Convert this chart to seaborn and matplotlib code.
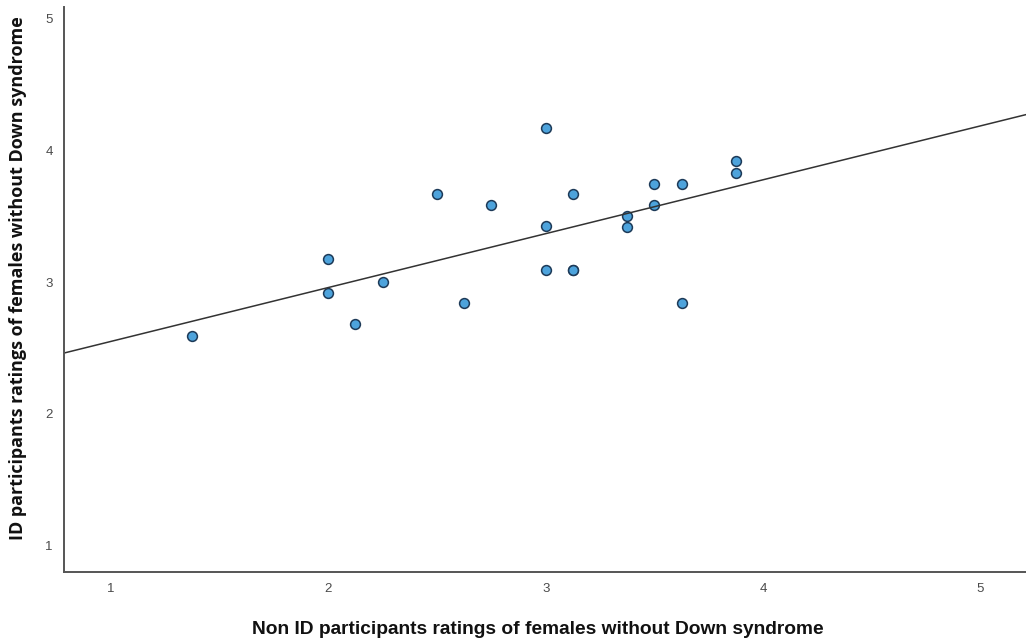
import matplotlib
matplotlib.use('Agg')
import matplotlib.pyplot as plt
import seaborn as sns
import pandas as pd

# ratings
non_id_ratings = [1.375, 2.0, 2.0, 2.125, 2.25, 2.5, 2.625, 2.75, 3.0, 3.0,
                  3.0, 3.125, 3.125, 3.125, 3.375, 3.375, 3.5, 3.5, 3.625,
                  3.625, 3.875, 3.875]
id_ratings = [2.59, 3.175, 2.92, 2.68, 3.0, 3.67, 2.84, 3.59, 4.175, 3.43,
              3.09, 3.67, 3.09, 3.09, 3.5, 3.42, 3.75, 3.59, 3.75,
              2.84, 3.92, 3.83]
tick_values = [1, 2, 3, 4, 5]

df = pd.DataFrame({'non_id': non_id_ratings, 'id': id_ratings})

sns.set_style('white')
plt.rcParams['font.family'] = ['Liberation Sans', 'DejaVu Sans']

fig = plt.figure(figsize=(10.26, 6.38), dpi=100)
ax = fig.add_axes([0.0624, 0.1034, 0.9376, 0.8856])

# limits first so the fitted line spans the whole axis
ax.set_xlim(0.784, 5.21)
ax.set_ylim(0.80, 5.09)

sns.regplot(
    data=df,
    x='non_id',
    y='id',
    ci=None,
    truncate=False,
    ax=ax,
    scatter_kws=dict(s=50, color='#4da3dc', edgecolor='#1d3a58',
                     linewidths=1.1, alpha=1),
    line_kws=dict(color='#333333', linewidth=1.1),
)

ax.set_xlim(0.784, 5.21)
ax.set_ylim(0.80, 5.09)
ax.set_xticks(tick_values)
ax.set_yticks(tick_values)
ax.tick_params(axis='both', length=0, labelsize=9.5, colors='#4a4a4a')
ax.tick_params(axis='x', pad=8)
ax.tick_params(axis='y', pad=8)

for side in ['top', 'right']:
    ax.spines[side].set_visible(False)
for side in ['left', 'bottom']:
    ax.spines[side].set_color('#555555')
    ax.spines[side].set_linewidth(1.4)

ax.set_xlabel('Non ID participants ratings of females without Down syndrome',
              fontsize=13.8, fontweight='bold', color='#111111', va='center')
ax.set_ylabel('ID participants ratings of females without Down syndrome',
              fontsize=13, fontweight='bold', color='#111111', va='center',
              family=['Open Sans', 'Liberation Sans'])
ax.xaxis.set_label_coords(0.493, -0.102)
ax.yaxis.set_label_coords(-0.048, 0.52)

fig.savefig('out.png', dpi=100)
